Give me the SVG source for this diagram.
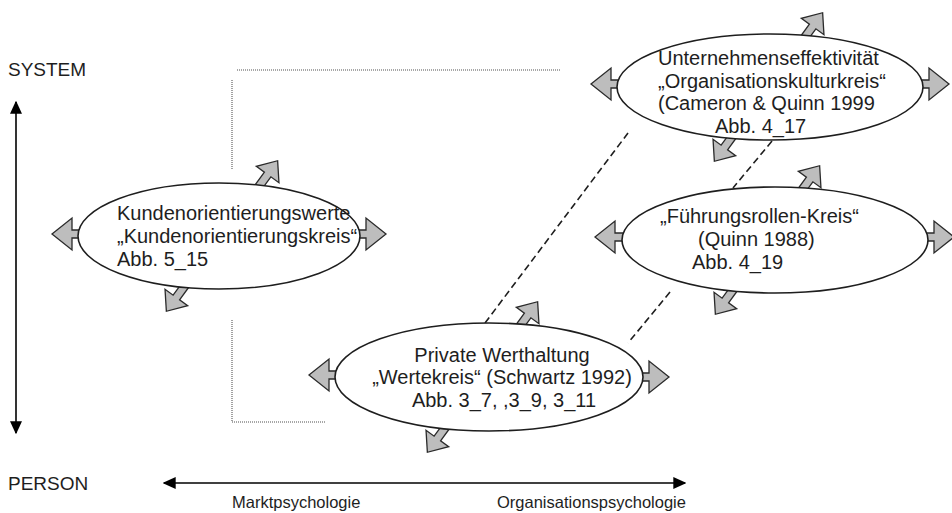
<svg xmlns="http://www.w3.org/2000/svg" xmlns:xlink="http://www.w3.org/1999/xlink" width="952" height="513" viewBox="0 0 952 513">
<style>
  .t { font-family: "Liberation Sans", Arial, sans-serif; font-size: 20px; fill: #1e1e1e; }
  .ax { font-family: "Liberation Sans", Arial, sans-serif; font-size: 19px; fill: #1e1e1e; }
  .ax2 { font-family: "Liberation Sans", Arial, sans-serif; font-size: 16.5px; fill: #1e1e1e; }
  .ell { fill: #ffffff; stroke: #1e1e1e; stroke-width: 1.6; }
  .arr { fill: #bdbdbd; stroke: #2a2a2a; stroke-width: 1.3; stroke-linejoin: miter; }
  .dash { stroke: #1e1e1e; stroke-width: 1.6; stroke-dasharray: 7 4; fill: none; }
  .dot { stroke: #8a8a8a; stroke-width: 1.6; stroke-dasharray: 1 1; fill: none; }
  .axis { stroke: #000; stroke-width: 1.6; fill: none; }
</style>
<defs>
  <path id="ah" d="M-6,-4 H8 V-16 L28,0 L8,16 V4 H-6 Z"/>
  <path id="ad" d="M-6,-4 H13 V-14 L30,0 L13,14 V4 H-6 Z"/>
  <marker id="tri" viewBox="0 0 10 10" refX="9" refY="5" markerWidth="13" markerHeight="12" markerUnits="userSpaceOnUse" orient="auto-start-reverse" preserveAspectRatio="none">
    <path d="M0,0 L10,5 L0,10 Z" fill="#000"/>
  </marker>
</defs>
<rect width="952" height="513" fill="#fff"/>

<g id="axes">
  <text class="ax" x="8" y="76">SYSTEM</text>
  <text class="ax" x="8" y="490">PERSON</text>
  <line class="axis" x1="16" y1="102" x2="16" y2="433" marker-start="url(#tri)" marker-end="url(#tri)"/>
  <line class="axis" x1="164" y1="483" x2="685" y2="483" marker-start="url(#tri)" marker-end="url(#tri)"/>
  <text class="ax2" x="232" y="508">Marktpsychologie</text>
  <text class="ax2" x="497" y="508">Organisationspsychologie</text>
</g>

<g id="connectors">
  <polyline class="dot" points="237,70 560,70"/>
  <line class="dot" x1="232" y1="80" x2="232" y2="170"/>
  <line class="dot" x1="232" y1="320" x2="232" y2="421"/>
  <line class="dot" x1="232" y1="422" x2="326" y2="422"/>
  <line class="dash" x1="485" y1="323" x2="628" y2="133"/>
  <line class="dash" x1="772" y1="141" x2="733" y2="188"/>
  <line class="dash" x1="670" y1="292" x2="628" y2="343"/>
</g>

<g id="node-kunden">
  <use href="#ah" class="arr" transform="translate(80,234) rotate(180)"/>
  <use href="#ah" class="arr" transform="translate(358,234)"/>
  <use href="#ad" class="arr" transform="translate(260,185) rotate(-54)"/>
  <use href="#ad" class="arr" transform="translate(184,287) rotate(126)"/>
  <ellipse class="ell" cx="219" cy="236" rx="141" ry="53"/>
  <text class="t" x="117" y="220">Kundenorientierungswerte</text>
  <text class="t" x="117" y="243">„Kundenorientierungskreis“</text>
  <text class="t" x="117" y="266">Abb. 5_15</text>
</g>

<g id="node-unternehmen">
  <use href="#ah" class="arr" transform="translate(619,84) rotate(180)"/>
  <use href="#ah" class="arr" transform="translate(921,84)"/>
  <use href="#ad" class="arr" transform="translate(805,37) rotate(-54)"/>
  <use href="#ad" class="arr" transform="translate(732,137) rotate(126)"/>
  <ellipse class="ell" cx="770" cy="87" rx="153" ry="53"/>
  <text class="t" x="658" y="65">Unternehmenseffektivität</text>
  <text class="t" x="658" y="88">„Organisationskulturkreis“</text>
  <text class="t" x="658" y="110">(Cameron &amp; Quinn 1999</text>
  <text class="t" x="715" y="133">Abb. 4_17</text>
</g>

<g id="node-fuehrung">
  <use href="#ah" class="arr" transform="translate(623,237) rotate(180)"/>
  <use href="#ah" class="arr" transform="translate(926,237)"/>
  <use href="#ad" class="arr" transform="translate(802,190) rotate(-54)"/>
  <use href="#ad" class="arr" transform="translate(733,290) rotate(126)"/>
  <ellipse class="ell" cx="775" cy="240" rx="153" ry="53"/>
  <text class="t" x="660" y="223">„Führungsrollen-Kreis“</text>
  <text class="t" x="698" y="246">(Quinn 1988)</text>
  <text class="t" x="692" y="269">Abb. 4_19</text>
</g>

<g id="node-private">
  <use href="#ah" class="arr" transform="translate(337,375) rotate(180)"/>
  <use href="#ah" class="arr" transform="translate(641,377)"/>
  <use href="#ad" class="arr" transform="translate(520,326) rotate(-54)"/>
  <use href="#ad" class="arr" transform="translate(445,428) rotate(126)"/>
  <ellipse class="ell" cx="489" cy="377" rx="154" ry="54"/>
  <text class="t" x="502" y="362" text-anchor="middle">Private Werthaltung</text>
  <text class="t" x="502" y="384" text-anchor="middle">„Wertekreis“ (Schwartz 1992)</text>
  <text class="t" x="504" y="407" text-anchor="middle">Abb. 3_7, ,3_9, 3_11</text>
</g>
</svg>
